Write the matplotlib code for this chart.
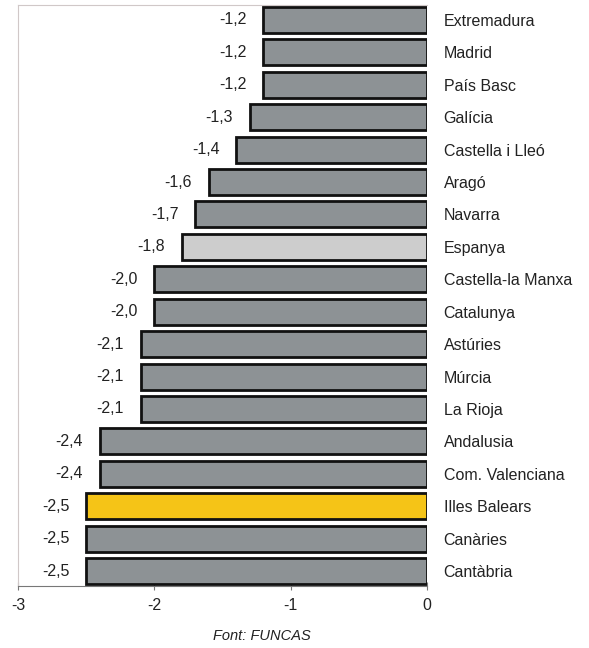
import matplotlib
matplotlib.use("Agg")
import matplotlib.pyplot as plt

regions = ["Extremadura", "Madrid", "País Basc", "Galícia", "Castella i Lleó",
           "Aragó", "Navarra", "Espanya", "Castella-la Manxa", "Catalunya",
           "Astúries", "Múrcia", "La Rioja", "Andalusia", "Com. Valenciana",
           "Illes Balears", "Canàries", "Cantàbria"]
values = [-1.2, -1.2, -1.2, -1.3, -1.4, -1.6, -1.7, -1.8, -2.0, -2.0,
          -2.1, -2.1, -2.1, -2.4, -2.4, -2.5, -2.5, -2.5]
xticks = [-3, -2, -1, 0]
source = "Font: FUNCAS"

base_color = "#8d9295"
special = {"Espanya": "#cdcdcd", "Illes Balears": "#f5c417"}
colors = [special.get(r, base_color) for r in regions]

plt.rcParams['font.family'] = ['Liberation Sans', 'DejaVu Sans']

fig = plt.figure(figsize=(5.89, 6.48), dpi=100)
ax = fig.add_axes([18/589, 1 - 586/648, (427 - 18)/589, (586 - 5)/648])

y = list(range(len(regions)))
ax.barh(y, values, height=0.8, color=colors, edgecolor="#111111", linewidth=2.0, zorder=3)

for yi, v in zip(y, values):
    ax.annotate(f"{v:.1f}".replace(".", ","), xy=(v, yi), xytext=(-12, 0),
                textcoords="offset points", ha="right", va="center",
                fontsize=11.5, color="#222222")

ax.set_xlim(-3, 0)
ax.set_ylim(len(regions) - 1 + 0.46, -0.46)
ax.set_xticks(xticks)
ax.set_xticklabels([str(t) for t in xticks], fontsize=11.5, color="#222222")
ax.tick_params(axis="x", direction="inout", length=6, width=0.8, color="#777777", pad=6)

ax.yaxis.tick_right()
ax.set_yticks(y)
ax.set_yticklabels(regions, fontsize=11.5, color="#222222")
ax.tick_params(axis="y", length=0, pad=12)

ax.spines["right"].set_visible(False)
ax.spines["top"].set_color("#d0c8c8")
ax.spines["left"].set_color("#d0c8c8")
ax.spines["bottom"].set_color("#777777")
ax.spines["top"].set_linewidth(0.8)
ax.spines["left"].set_linewidth(0.8)

fig.text(262/589, 1 - 636/648, source, ha="center", va="center",
         fontsize=10.5, style="italic", color="#222222")

fig.savefig("out.png", dpi=100)
